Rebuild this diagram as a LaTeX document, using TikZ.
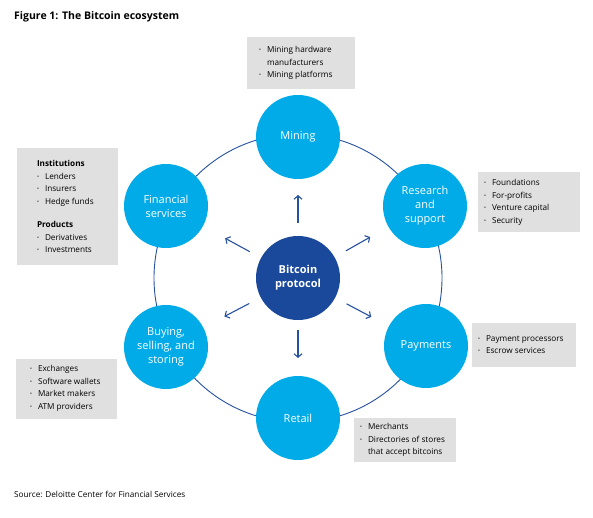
\documentclass[tikz,border=0pt]{standalone}
\usepackage{fontspec}
\setmainfont{Open Sans}
\usetikzlibrary{arrows.meta,calc}
\definecolor{lightblue}{RGB}{0,171,231}
\definecolor{darkblue}{RGB}{26,72,154}
\definecolor{ringblue}{RGB}{38,82,160}
\definecolor{boxgray}{RGB}{224,224,224}
\newcommand\bul{\makebox[8pt][l]{\raisebox{1pt}{\tiny\textbullet}}}
\tikzset{
  part/.style={circle, fill=lightblue, minimum size=84pt, inner sep=0pt, text=white, align=center, font=\fontsize{11}{14}\selectfont},
  core/.style={part, fill=darkblue, font=\fontsize{11}{14}\selectfont\bfseries},
  infobox/.style={fill=boxgray, inner sep=0pt},
  infotext/.style={align=left, anchor=west, inner sep=0pt, font=\fontsize{8.2}{12.5}\selectfont},
  flow/.style={draw=ringblue, line width=1.1pt, -{Straight Barb[length=3.5pt,width=8pt]}}
}
\begin{document}
\begin{tikzpicture}[x=1pt, y=-1pt]
    \useasboundingbox (0, 0) rectangle (593, 518);
    \node[anchor=base west, inner sep=0pt, font=\fontsize{10.5}{13}\selectfont\bfseries] (title) at (14, 20) {Figure 1: The Bitcoin ecosystem};
    \node[anchor=base west, inner sep=0pt, font=\fontsize{8.2}{11}\selectfont] (source) at (14, 497) {Source: Deloitte Center for Financial Services};
    \node[core] (proto) at (298, 278) {Bitcoin\\protocol};
    \draw[ringblue, line width=0.9pt] (proto) circle[radius=144];
    \node[part] (mine) at (298, 137) {Mining};
    \node[part] (fin) at (166, 206) {Financial\\services};
    \node[part] (res) at (425, 206) {Research\\and\\support};
    \node[part] (buy) at (166, 347) {Buying,\\selling, and\\storing};
    \node[part] (pay) at (426, 346) {Payments};
    \node[part] (ret) at (298, 418) {Retail};
    \draw[flow] ($(proto)!55pt!(mine)$) -- ($(proto)!83pt!(mine)$);
    \draw[flow] ($(proto)!55pt!(fin)$) -- ($(proto)!83pt!(fin)$);
    \draw[flow] ($(proto)!55pt!(res)$) -- ($(proto)!83pt!(res)$);
    \draw[flow] ($(proto)!55pt!(buy)$) -- ($(proto)!83pt!(buy)$);
    \draw[flow] ($(proto)!55pt!(pay)$) -- ($(proto)!83pt!(pay)$);
    \draw[flow] ($(proto)!52pt!(ret)$) -- ($(proto)!80pt!(ret)$);
    \node[infobox, minimum width=108, minimum height=52] (minebox) at (301, 63) {};
    \node[infotext] at ([xshift=12]minebox.west) {\bul Mining hardware\\\hspace*{8pt}manufacturers\\\bul Mining platforms};
    \node[infobox, minimum width=101, minimum height=116] (finbox) at (67.5, 206.5) {};
    \node[infotext] at ([xshift=20]finbox.west) {\textbf{Institutions}\\\bul Lenders\\\bul Insurers\\\bul Hedge funds\\[11pt]\textbf{Products}\\\bul Derivatives\\\bul Investments};
    \node[infobox, minimum width=102, minimum height=60] (resbox) at (529, 202.5) {};
    \node[infotext] at ([xshift=6]resbox.west) {\bul Foundations\\\bul For-profits\\\bul Venture capital\\\bul Security};
    \node[infobox, minimum width=101, minimum height=60] (buybox) at (66.5, 388.5) {};
    \node[infotext] at ([xshift=14]buybox.west) {\bul Exchanges\\\bul Software wallets\\\bul Market makers\\\bul ATM providers};
    \node[infobox, minimum width=104, minimum height=44] (paybox) at (524, 344.5) {};
    \node[infotext] at ([xshift=6]paybox.west) {\bul Payment processors\\\bul Escrow services};
    \node[infobox, minimum width=102, minimum height=44] (retbox) at (405, 440) {};
    \node[infotext] at ([xshift=6]retbox.west) {\bul Merchants\\\bul Directories of stores\\\hspace*{8pt}that accept bitcoins};
\end{tikzpicture}
\end{document}
